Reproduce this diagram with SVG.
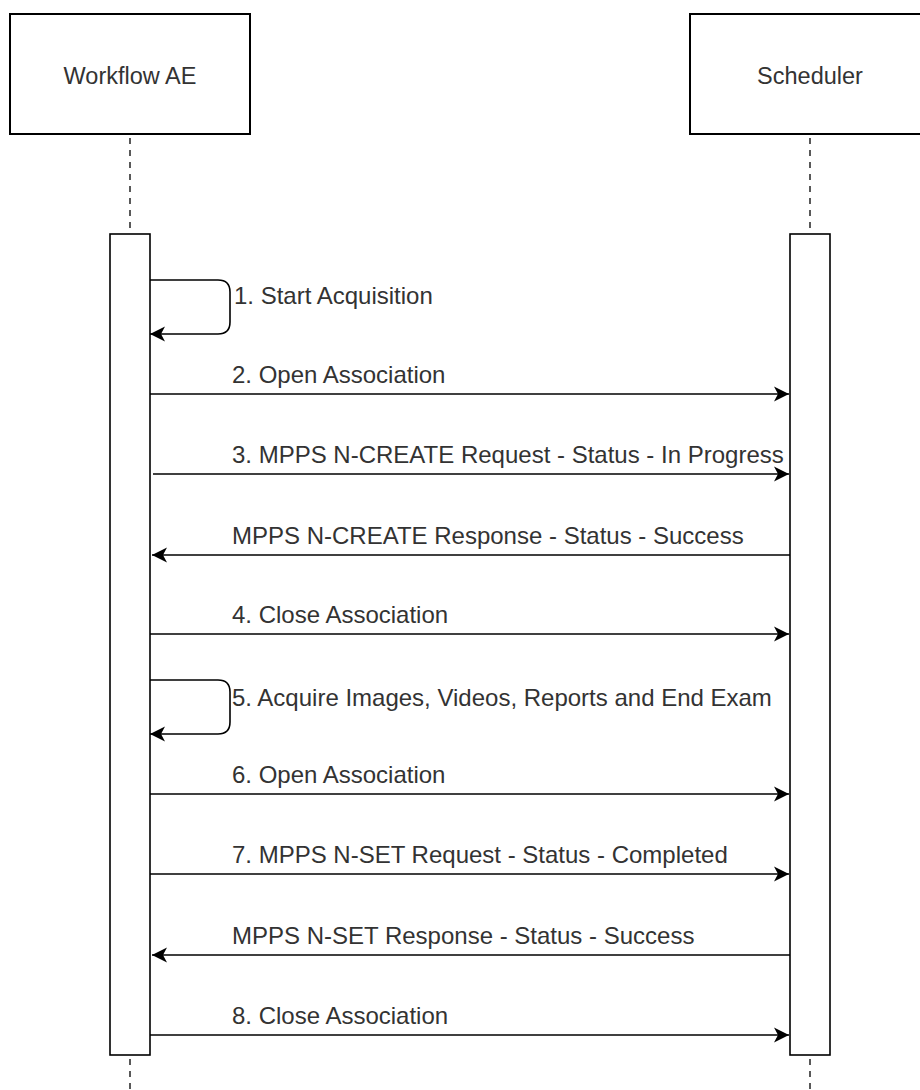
<svg xmlns="http://www.w3.org/2000/svg" width="920" height="1090" viewBox="0 0 920 1090">
  <style>
    .box { fill: #ffffff; stroke: #000000; stroke-width: 2; }
    .bar { fill: #ffffff; stroke: #000000; stroke-width: 1.6; }
    .life { stroke: #000000; stroke-width: 1.3; stroke-dasharray: 6 6; fill: none; }
    .msg { stroke: #000000; stroke-width: 1.6; fill: none; }
    .title { font-family: "Liberation Sans", Arial, sans-serif; font-size: 23.5px; fill: #333333; text-anchor: middle; }
    .lbl { font-family: "Liberation Sans", Arial, sans-serif; font-size: 24px; fill: #333333; }
  </style>
  <defs>
    <marker id="arr" viewBox="0 0 16 16" refX="15" refY="8" markerWidth="16" markerHeight="16" markerUnits="userSpaceOnUse" orient="auto">
      <path d="M15,8 L0,0.5 L4,8 L0,15.5 Z" fill="#000000"/>
    </marker>
  </defs>
  <rect width="920" height="1090" fill="#ffffff"/>

  <g id="workflow-ae">
    <rect class="box" x="10" y="14" width="240" height="120"/>
    <text class="title" x="130" y="84">Workflow AE</text>
    <line class="life" x1="130" y1="138" x2="130" y2="234"/>
    <line class="life" x1="130" y1="1059" x2="130" y2="1090"/>
    <rect class="bar" x="110" y="234" width="40" height="821"/>
  </g>

  <g id="scheduler">
    <rect class="box" x="690" y="14" width="240" height="120"/>
    <text class="title" x="810" y="84">Scheduler</text>
    <line class="life" x1="810" y1="138" x2="810" y2="234"/>
    <line class="life" x1="810" y1="1059" x2="810" y2="1090"/>
    <rect class="bar" x="790" y="234" width="40" height="821"/>
  </g>

  <g id="connectors">
    <path class="msg" d="M150,280 H218 Q230,280 230,292 V322 Q230,334 218,334 H150" marker-end="url(#arr)"/>
    <line class="msg" x1="150" y1="394" x2="789" y2="394" marker-end="url(#arr)"/>
    <line class="msg" x1="153" y1="474" x2="789" y2="474" marker-end="url(#arr)"/>
    <line class="msg" x1="790" y1="555" x2="152" y2="555" marker-end="url(#arr)"/>
    <line class="msg" x1="150" y1="634" x2="789" y2="634" marker-end="url(#arr)"/>
    <path class="msg" d="M150,680 H218 Q230,680 230,692 V722 Q230,734 218,734 H150" marker-end="url(#arr)"/>
    <line class="msg" x1="150" y1="794" x2="789" y2="794" marker-end="url(#arr)"/>
    <line class="msg" x1="150" y1="874" x2="789" y2="874" marker-end="url(#arr)"/>
    <line class="msg" x1="790" y1="955" x2="152" y2="955" marker-end="url(#arr)"/>
    <line class="msg" x1="150" y1="1035" x2="789" y2="1035" marker-end="url(#arr)"/>
  </g>

  <g id="labels">
    <text class="lbl" x="234" y="304">1. Start Acquisition</text>
    <text class="lbl" x="232" y="383">2. Open Association</text>
    <text class="lbl" x="232" y="463">3. MPPS N-CREATE Request - Status - In Progress</text>
    <text class="lbl" x="232" y="544">MPPS N-CREATE Response - Status - Success</text>
    <text class="lbl" x="232" y="623">4. Close Association</text>
    <text class="lbl" x="232" y="706">5. Acquire Images, Videos, Reports and End Exam</text>
    <text class="lbl" x="232" y="783">6. Open Association</text>
    <text class="lbl" x="232" y="863">7. MPPS N-SET Request - Status - Completed</text>
    <text class="lbl" x="232" y="944">MPPS N-SET Response - Status - Success</text>
    <text class="lbl" x="232" y="1024">8. Close Association</text>
  </g>
</svg>
